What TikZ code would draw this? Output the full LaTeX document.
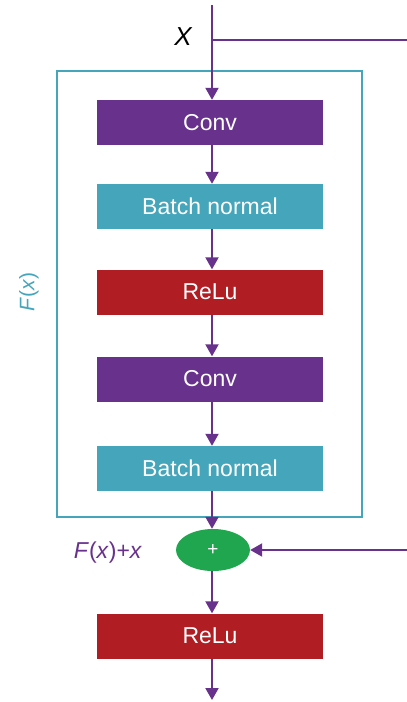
\documentclass[tikz,border=0pt]{standalone}
\usepackage{fontspec}
\setmainfont{Liberation Sans}
\usetikzlibrary{arrows.meta,shapes.geometric}
\definecolor{cpurple}{HTML}{68318C}
\definecolor{cteal}{HTML}{45A5BA}
\definecolor{cred}{HTML}{B01E24}
\definecolor{cgreen}{HTML}{21A650}
\begin{document}
\begin{tikzpicture}[x=1pt,y=-1pt,
  blk/.style={minimum width=226pt,minimum height=45pt,inner sep=0pt,text=white,font=\fontsize{23}{26}\selectfont},
  conn/.style={draw=cpurple,line width=2pt,-{Triangle[width=13pt,length=12pt]}},
  plain/.style={draw=cpurple,line width=2pt}]
\useasboundingbox (0,0) rectangle (407,702);
\node[draw=cteal,line width=2pt,minimum width=305pt,minimum height=446pt,inner sep=0pt] (frame) at (209.5,294) {};
\coordinate (top) at (212,5);
\coordinate (split) at (212,40);
\coordinate (xr) at (407,40);
\coordinate (pr) at (407,550);
\coordinate (bot) at (212,700);
\node[blk,fill=cpurple] (c1) at (210,122.5) {Conv};
\node[blk,fill=cteal] (b1) at (210,206.5) {Batch normal};
\node[blk,fill=cred] (r1) at (210,292) {ReLu};
\node[blk,fill=cpurple] (c2) at (210,379) {Conv};
\node[blk,fill=cteal] (b2) at (210,468.5) {Batch normal};
\node[ellipse,fill=cgreen,minimum width=74pt,minimum height=42pt,inner sep=0pt,text=white,font=\fontsize{19}{22}\selectfont] (plus) at (213,550) {+};
\node[blk,fill=cred] (r2) at (210,636) {ReLu};
\node[font=\fontsize{26}{30}\selectfont\itshape] (xl) at (183,37) {X};
\node[font=\fontsize{23}{26}\selectfont,text=cpurple] (fxl) at (108,553) {\textit{F}(\textit{x})+\textit{x}};
\node[font=\fontsize{21}{24}\selectfont,text=cteal,rotate=90] (fl) at (29,292) {\textit{F}(\textit{x})};
\draw[conn] (top) -- (c1.north -| top);
\draw[plain] (split) -- (xr);
\draw[conn] (c1.south -| top) -- (b1.north -| top);
\draw[conn] (b1.south -| top) -- (r1.north -| top);
\draw[conn] (r1.south -| top) -- (c2.north -| top);
\draw[conn] (c2.south -| top) -- (b2.north -| top);
\draw[conn] (b2.south -| top) -- (plus.north -| top);
\draw[conn] (pr) -- (plus.east);
\draw[conn] (plus.south -| top) -- (r2.north -| top);
\draw[conn] (r2.south -| top) -- (bot);
\end{tikzpicture}
\end{document}
